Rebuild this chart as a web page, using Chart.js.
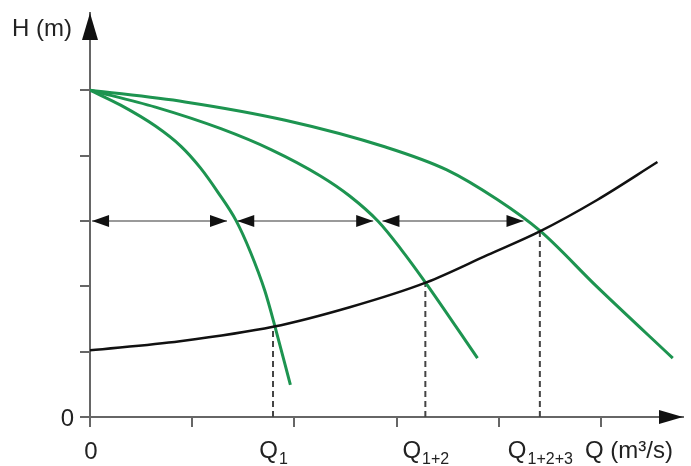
<!DOCTYPE html>
<html>
<head>
<meta charset="utf-8">
<script src="https://cdn.jsdelivr.net/npm/chart.js@4/dist/chart.umd.min.js"></script>
<style>
    body { margin: 0; background: #ffffff; }
    #wrap { width: 691px; height: 466px; position: relative; }
</style>
</head>
<body>
<div id="wrap"><canvas id="pumpChart"></canvas></div>
<script>
// Pump curves (Q, H)
const pump1Q = [0, 0.30, 0.64, 0.89, 1.08, 1.25, 1.43, 1.57, 1.71, 1.81, 1.96];
const pump1H = [5.0, 4.77, 4.45, 4.14, 3.81, 3.44, 3.00, 2.52, 1.93, 1.38, 0.49];

const pump2Q = [0, 0.64, 1.28, 1.77, 2.25, 2.54, 2.82, 3.05, 3.28, 3.79];
const pump2H = [5.0, 4.74, 4.41, 4.09, 3.69, 3.38, 2.99, 2.55, 2.06, 0.90];

const pump3Q = [0, 0.93, 1.91, 2.89, 3.49, 3.98, 4.40, 4.96, 5.70];
const pump3H = [5.0, 4.82, 4.54, 4.13, 3.78, 3.33, 2.85, 1.99, 0.90];

// System curve
const systemQ = [0, 0.88, 1.79, 2.54, 3.29, 3.89, 4.40, 4.96, 5.55];
const systemH = [1.02, 1.16, 1.38, 1.68, 2.06, 2.48, 2.84, 3.32, 3.90];

// Operating points (dashed drop lines)
const opQ = [1.79, 3.28, 4.40];
const opH = [1.38, 2.06, 2.84];
const opLabels = [['Q', '1'], ['Q', '1+2'], ['Q', '1+2+3']];

// Double arrows at constant head
const arrowH = 3.0;
const arrowFrom = [0.02, 1.44, 2.86];
const arrowTo = [1.34, 2.77, 4.24];

const xTicks = [0, 1, 2, 3, 4, 5];
const yTicks = [0, 1, 2, 3, 4, 5];

const GREEN = '#1d9450';
const AXIS = '#666666';
const FONT = '"Liberation Sans", Arial, sans-serif';

function toPoints(xs, ys) {
    return xs.map((x, i) => ({ x: x, y: ys[i] }));
}

function curve(xs, ys, color, width) {
    return {
        data: toPoints(xs, ys),
        borderColor: color,
        borderWidth: width,
        pointRadius: 0,
        fill: false,
        cubicInterpolationMode: 'monotone'
    };
}

const datasets = [];
datasets.push(curve(systemQ, systemH, '#111111', 2.5));
datasets.push(curve(pump1Q, pump1H, GREEN, 3));
datasets.push(curve(pump2Q, pump2H, GREEN, 3));
datasets.push(curve(pump3Q, pump3H, GREEN, 3));

opQ.forEach((q, i) => {
    datasets.push({
        data: [{ x: q, y: 0 }, { x: q, y: opH[i] }],
        borderColor: '#444444',
        borderWidth: 2,
        borderDash: [6, 4],
        pointRadius: 0
    });
});

arrowFrom.forEach((a, i) => {
    datasets.push({
        data: [{ x: a, y: arrowH }, { x: arrowTo[i], y: arrowH }],
        borderColor: '#9a9a9a',
        borderWidth: 2,
        pointRadius: 0
    });
});

function triangle(ctx, tipX, tipY, dx, dy, len, half) {
    // dx, dy: unit direction of the arrow
    const bx = tipX - dx * len, by = tipY - dy * len;
    ctx.beginPath();
    ctx.moveTo(tipX, tipY);
    ctx.lineTo(bx - dy * half, by + dx * half);
    ctx.lineTo(bx + dy * half, by - dx * half);
    ctx.closePath();
    ctx.fill();
}

const decorations = {
    id: 'decorations',
    afterDraw(chart) {
        const ctx = chart.ctx;
        const xs = chart.scales.x, ys = chart.scales.y;
        const area = chart.chartArea;
        const x0 = xs.getPixelForValue(0), y0 = ys.getPixelForValue(0);
        ctx.save();

        // axis arrowheads
        ctx.fillStyle = '#111111';
        triangle(ctx, x0, area.top, 0, -1, 27, 8);
        triangle(ctx, area.right, y0, 1, 0, 24, 7);

        // double arrow heads
        const hy = ys.getPixelForValue(arrowH);
        arrowFrom.forEach((a, i) => {
            triangle(ctx, xs.getPixelForValue(a), hy, -1, 0, 17, 6);
            triangle(ctx, xs.getPixelForValue(arrowTo[i]), hy, 1, 0, 17, 6);
        });

        // texts
        ctx.fillStyle = '#222222';
        ctx.textBaseline = 'alphabetic';
        ctx.font = '24px ' + FONT;
        ctx.textAlign = 'left';
        ctx.fillText('H (m)', 12, 36);
        ctx.textAlign = 'right';
        ctx.fillText('0', x0 - 16, y0 + 9);
        ctx.textAlign = 'center';
        ctx.fillText('0', x0 + 1, 459);

        ctx.textAlign = 'left';
        opLabels.forEach((lab, i) => {
            ctx.font = '24px ' + FONT;
            const w1 = ctx.measureText(lab[0]).width;
            ctx.font = '16px ' + FONT;
            const w2 = ctx.measureText(lab[1]).width;
            const start = xs.getPixelForValue(opQ[i]) - (w1 + w2) / 2;
            ctx.font = '24px ' + FONT;
            ctx.fillText(lab[0], start, 458);
            ctx.font = '16px ' + FONT;
            ctx.fillText(lab[1], start + w1 + 1, 464);
        });

        ctx.font = '24px ' + FONT;
        ctx.fillText('Q (m³/s)', 585, 458);
        ctx.restore();
    }
};

new Chart(document.getElementById('pumpChart'), {
    type: 'line',
    data: { datasets: datasets },
    options: {
        responsive: true,
        maintainAspectRatio: false,
        animation: false,
        layout: { padding: { top: 13, right: 8, left: 0, bottom: 0 } },
        plugins: {
            legend: { display: false },
            tooltip: { enabled: false }
        },
        scales: {
            x: {
                type: 'linear',
                min: 0,
                max: 5.80,
                afterBuildTicks: s => { s.ticks = xTicks.map(v => ({ value: v })); },
                afterFit: s => { s.height = 49; },
                ticks: { display: false },
                grid: { drawOnChartArea: false, tickLength: 10, color: AXIS, lineWidth: 2 },
                border: { color: AXIS, width: 2 }
            },
            y: {
                min: 0,
                max: 6.18,
                afterBuildTicks: s => { s.ticks = yTicks.map(v => ({ value: v })); },
                afterFit: s => { s.width = 90; },
                ticks: { display: false },
                grid: { drawOnChartArea: false, tickLength: 10, color: AXIS, lineWidth: 2 },
                border: { color: AXIS, width: 2 }
            }
        }
    },
    plugins: [decorations]
});
</script>
</body>
</html>
